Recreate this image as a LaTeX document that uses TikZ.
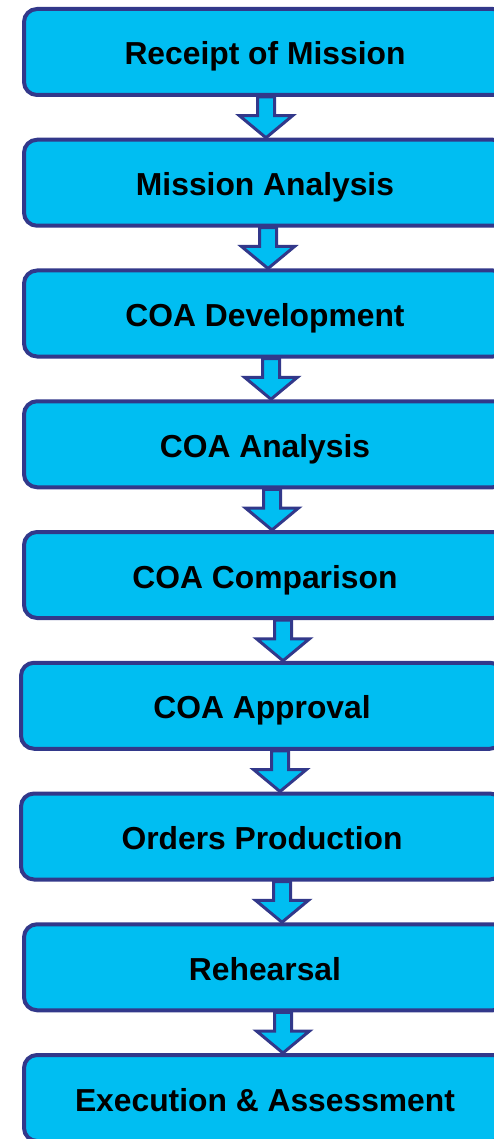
\documentclass[tikz,border=0pt]{standalone}
\usepackage{fontspec}
\setmainfont{Liberation Sans}
\usetikzlibrary{calc,positioning}
\definecolor{boxfill}{HTML}{00BEF2}
\definecolor{boxline}{HTML}{32388A}

\begin{document}
\begin{tikzpicture}[x=1pt,y=-1pt,
  stage/.style={draw=boxline, fill=boxfill, line width=4pt, rounded corners=13pt,
    minimum width=482pt, minimum height=86pt, inner sep=0pt,
    text height=26pt, text depth=0pt,
    font=\fontsize{31.8}{38}\selectfont\bfseries},
  flowarrow/.style={draw=boxline, fill=boxfill, line width=3pt, line join=miter}]
  % page size
  \useasboundingbox (0,0) rectangle (493,1139);
  % Define dimensions
  \def\shaft{8.5}
  \def\head{26.5}
  \def\headlen{22}

  % Draw stages
  \node[stage] (receipt)     at (265,52)     {Receipt of Mission};
  \node[stage] (mission)     at (265,182.75) {Mission Analysis};
  \node[stage] (coadev)      at (265,313.5)  {COA Development};
  \node[stage] (coaanalysis) at (265,444.25) {COA Analysis};
  \node[stage] (coacomp)     at (265,575)    {COA Comparison};
  \node[stage] (coaappr)     at (262,705.75) {COA Approval};
  \node[stage] (orders)      at (262,836.5)  {Orders Production};
  \node[stage] (rehearsal)   at (265,967.25) {Rehearsal};
  \node[stage] (execution)   at (265,1098)   {Execution \& Assessment};

  % Draw block arrows
  \foreach \a/\b/\ax in {receipt/mission/266, mission/coadev/268,
      coadev/coaanalysis/271, coaanalysis/coacomp/272, coacomp/coaappr/283,
      coaappr/orders/280, orders/rehearsal/282, rehearsal/execution/283}
    \draw[flowarrow] let \p1=(\a.south), \p2=(\b.north) in
      (\ax pt-\shaft pt, \y1) -- (\ax pt-\shaft pt, \y2+\headlen pt)
      -- (\ax pt-\head pt, \y2+\headlen pt) -- (\ax pt, \y2)
      -- (\ax pt+\head pt, \y2+\headlen pt) -- (\ax pt+\shaft pt, \y2+\headlen pt)
      -- (\ax pt+\shaft pt, \y1) -- cycle;
\end{tikzpicture}
\end{document}
